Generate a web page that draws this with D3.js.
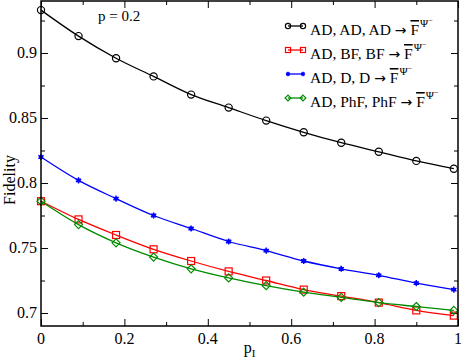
<!DOCTYPE html>
<html>
<head>
<meta charset="utf-8">
<script src="https://cdn.jsdelivr.net/npm/d3@7"></script>
<style>
  body { margin: 0; background: #fff; }
  text { font-family: "Liberation Serif", "DejaVu Serif", serif; }
</style>
</head>
<body>
<div id="chart"></div>
<script>
var pI = [0, 0.09, 0.18, 0.27, 0.36, 0.45, 0.54, 0.63, 0.72, 0.81, 0.9, 0.99];
var adAdAd = [0.933, 0.913, 0.896, 0.882, 0.868, 0.858, 0.848, 0.839, 0.831, 0.824, 0.817, 0.811];
var adBfBf = [0.786, 0.772, 0.760, 0.749, 0.740, 0.732, 0.725, 0.718, 0.713, 0.708, 0.702, 0.698];
var adDD = [0.820, 0.802, 0.788, 0.775, 0.765, 0.755, 0.748, 0.740, 0.734, 0.729, 0.723, 0.718];
var adPhfPhf = [0.786, 0.768, 0.754, 0.743, 0.734, 0.727, 0.721, 0.716, 0.712, 0.708, 0.705, 0.702];
var xTicks = [0, 0.2, 0.4, 0.6, 0.8, 1];
var xMinor = [0.1, 0.3, 0.5, 0.7, 0.9];
var yTicks = [0.7, 0.75, 0.8, 0.85, 0.9];
var yMinor = [0.725, 0.775, 0.825, 0.875, 0.925];
var seriesNames = ["AD, AD, AD", "AD, BF, BF", "AD, D, D", "AD, PhF, PhF"];

var width = 463, height = 359;
var margin = {top: 1, right: 5, bottom: 33, left: 41};

var series = [
  {name: seriesNames[0], values: adAdAd, color: "#000000", shape: "circle"},
  {name: seriesNames[1], values: adBfBf, color: "#ff0000", shape: "square"},
  {name: seriesNames[2], values: adDD, color: "#0000ff", shape: "star"},
  {name: seriesNames[3], values: adPhfPhf, color: "#008c00", shape: "diamond"}
];

var x = d3.scaleLinear().domain([0, 1]).range([margin.left, width - margin.right]);
var y = d3.scaleLinear().domain([0.69, 0.94]).range([height - margin.bottom, margin.top]);

var svg = d3.select("#chart").append("svg")
  .attr("width", width)
  .attr("height", height);

// inward ticks on all four sides
function tickAxis(axis, vals, size) {
  return axis.tickValues(vals).tickSize(size).tickFormat("");
}
function addTicks(pos, axisFn, scale, major, minor) {
  var g = svg.append("g").attr("transform", pos);
  g.append("g").call(tickAxis(axisFn(scale), minor, 4));
  g.append("g").call(tickAxis(axisFn(scale), major, 7));
}
addTicks("translate(0," + y.range()[0] + ")", d3.axisTop, x, xTicks, xMinor);
addTicks("translate(0," + y.range()[1] + ")", d3.axisBottom, x, xTicks, xMinor);
addTicks("translate(" + x.range()[0] + ",0)", d3.axisRight, y, yTicks, yMinor);
addTicks("translate(" + x.range()[1] + ",0)", d3.axisLeft, y, yTicks, yMinor);
svg.selectAll(".domain").remove();
svg.selectAll(".tick line").attr("stroke", "#000").attr("stroke-width", 1);

// tick labels
svg.append("g").selectAll("text").data(xTicks).enter().append("text")
  .attr("x", d => x(d))
  .attr("y", y.range()[0] + 18)
  .attr("text-anchor", "middle")
  .style("font-size", "16px")
  .text(d => d3.format("")(d));
svg.append("g").selectAll("text").data(yTicks).enter().append("text")
  .attr("x", x.range()[0] - 4)
  .attr("y", d => y(d) + 5)
  .attr("text-anchor", "end")
  .style("font-size", "16px")
  .text(d => d3.format("")(d));

// axis titles
svg.append("text")
  .attr("transform", "translate(15," + (y(0.8) - 3) + ") rotate(-90)")
  .attr("text-anchor", "middle")
  .style("font-size", "16px")
  .text("Fidelity");
var xt = svg.append("text")
  .attr("x", x(0.5))
  .attr("y", height - 6)
  .attr("text-anchor", "middle")
  .style("font-size", "16px");
xt.append("tspan").text("p");
xt.append("tspan").attr("dy", 4).style("font-size", "11px").text("I");

svg.append("text")
  .attr("x", 98)
  .attr("y", 21)
  .style("font-size", "15px")
  .text("p = 0.2");

var line = d3.line()
  .x((d, i) => x(pI[i]))
  .y(d => y(d))
  .curve(d3.curveMonotoneX);

function marker(g, shape, color, k) {
  k = k || 1;
  if (shape == "circle") {
    g.append("circle").attr("r", 3.6 * k).attr("fill", "none").attr("stroke", color).attr("stroke-width", 1.2);
  } else if (shape == "square") {
    g.append("rect").attr("x", -3.5 * k).attr("y", -3.5 * k).attr("width", 7 * k).attr("height", 7 * k)
      .attr("fill", "none").attr("stroke", color).attr("stroke-width", 1.2);
  } else if (shape == "diamond") {
    g.append("path").attr("transform", "scale(" + k + ")").attr("d", "M0,-4L4,0L0,4L-4,0Z")
      .attr("fill", "none").attr("stroke", color).attr("stroke-width", 1.2 / k);
  } else {
    g.append("path").attr("d", d3.symbol().type(d3.symbolAsterisk || d3.symbolCross).size(26 * k * k)())
      .attr("fill", color).attr("stroke", color).attr("stroke-width", 1.4);
    g.append("circle").attr("r", 2.2 * k).attr("fill", color);
  }
}

var plot = svg.append("g");
series.forEach(function(s) {
  plot.append("path")
    .datum(s.values)
    .attr("fill", "none")
    .attr("stroke", s.color)
    .attr("stroke-width", 1.3)
    .attr("d", line);
  plot.selectAll(null).data(s.values).enter().append("g")
    .attr("transform", (d, i) => "translate(" + x(pI[i]) + "," + y(d) + ")")
    .each(function() { marker(d3.select(this), s.shape, s.color); });
});

// frame
svg.append("rect")
  .attr("x", x.range()[0]).attr("y", y.range()[1])
  .attr("width", x.range()[1] - x.range()[0])
  .attr("height", y.range()[0] - y.range()[1])
  .attr("fill", "none").attr("stroke", "#000").attr("stroke-width", 1.5);

// legend
var legend = svg.append("g");
series.forEach(function(s, i) {
  var ly = 26 + i * 24;
  var lg = legend.append("g").attr("transform", "translate(0," + ly + ")");
  lg.append("line").attr("x1", 288).attr("x2", 303).attr("y1", 0).attr("y2", 0)
    .attr("stroke", s.color).attr("stroke-width", 1.3);
  [288, 303].forEach(function(mx) {
    marker(lg.append("g").attr("transform", "translate(" + mx + ",0)"), s.shape, s.color, 0.72);
  });
  var t = lg.append("text").attr("x", 310).attr("y", 9).style("font-size", "15.5px");
  t.append("tspan").text(s.name + " ");
  t.append("tspan").style("font-family", "DejaVu Sans").style("font-size", "14px").text("\u2192");
  t.append("tspan").text(" ");
  t.append("tspan").style("text-decoration", "overline").text("F");
  t.append("tspan").attr("dx", 1).attr("dy", -8).style("font-size", "11px").text("\u03A8");
  t.append("tspan").attr("dy", -4).style("font-size", "8px").text("\u2212");
});
</script>
</body>
</html>
